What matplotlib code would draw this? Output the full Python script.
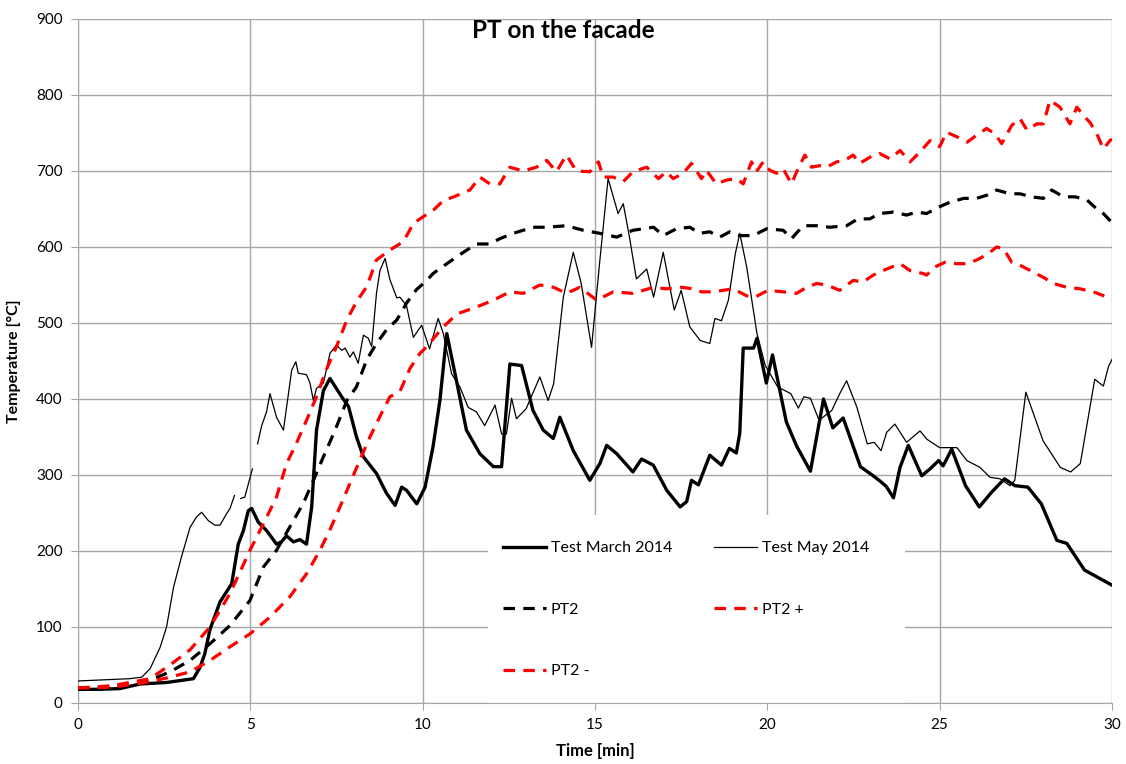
import numpy as np
import matplotlib
matplotlib.use("Agg")
import matplotlib.pyplot as plt
from matplotlib.patches import Rectangle

plt.rcParams['font.family'] = ['Lato', 'DejaVu Sans']

# ---------------- data ----------------
t_march = [0, 0.6, 1.22, 1.8, 2.57, 3.35, 3.54, 3.68, 3.83, 4.12, 4.46, 4.65, 4.8, 4.94, 5.04, 5.23, 5.47,
           5.76, 5.9, 6.05, 6.25, 6.44, 6.63, 6.78, 6.92, 7.12, 7.31, 7.65, 7.85, 8.08, 8.28, 8.66, 8.95,
           9.2, 9.39, 9.53, 9.83, 10.07, 10.3, 10.5, 10.7, 10.94, 11.27, 11.66, 12.05, 12.29, 12.53, 12.87,
           13.2, 13.5, 13.79, 13.98, 14.37, 14.85, 15.14, 15.34, 15.63, 16.1, 16.35, 16.69, 17.08, 17.47,
           17.66, 17.8, 18.0, 18.33, 18.67, 18.9, 19.1, 19.2, 19.3, 19.6, 19.7, 19.97, 20.15, 20.55, 20.85,
           21.25, 21.63, 21.9, 22.2, 22.7, 23.1, 23.27, 23.45, 23.66, 23.85, 24.09, 24.48, 24.72, 24.97,
           25.1, 25.35, 25.75, 26.15, 26.5, 26.88, 27.18, 27.56, 27.95, 28.4, 28.69, 29.2, 30]
v_march = [18, 18, 19, 25, 27, 32, 47, 65, 97, 133, 157, 209, 227, 253, 256, 238, 227,
           209, 212, 220, 212, 215, 209, 258, 359, 411, 427, 403, 390, 350, 324, 302, 276,
           260, 284, 280, 262, 284, 337, 398, 486, 433, 359, 328, 311, 311, 446, 444,
           385, 359, 348, 376, 332, 293, 315, 339, 328, 304, 321, 313, 280, 258,
           265, 293, 287, 326, 313, 335, 329, 355, 467, 467, 480, 421, 458, 370, 338,
           305, 400, 362, 375, 311, 298, 292, 285, 270, 310, 339, 299, 308, 319,
           312, 334, 286, 258, 277, 295, 286, 284, 262, 214, 210, 175, 155]

t_may = [0, 0.5, 1.0, 1.5, 1.85, 2.09, 2.38, 2.57, 2.77, 3.0, 3.25, 3.44, 3.59, 3.78, 3.97, 4.12, 4.31,
         4.41, 4.54, 4.62, 4.72, 4.84, 5.06, 5.13, 5.21, 5.33, 5.47, 5.57, 5.76, 5.96, 6.2, 6.32, 6.39,
         6.63, 6.73, 6.83, 6.92, 7.12, 7.31, 7.5, 7.65, 7.75, 7.89, 7.99, 8.13, 8.28, 8.42, 8.52, 8.66,
         8.76, 8.91, 9.05, 9.25, 9.34, 9.53, 9.73, 9.97, 10.2, 10.45, 10.6, 10.84, 11.08, 11.32, 11.56,
         11.8, 12.1, 12.29, 12.43, 12.58, 12.72, 13.0, 13.4, 13.64, 13.8, 14.08, 14.37, 14.6, 14.9,
         15.14, 15.38, 15.67, 15.82, 16.0, 16.2, 16.5, 16.7, 16.98, 17.3, 17.5, 17.75, 18.05, 18.33,
         18.48, 18.67, 18.87, 19.07, 19.2, 19.4, 19.7, 19.94, 20.3, 20.68, 20.9, 21.06, 21.25, 21.5,
         21.87, 22.1, 22.3, 22.6, 22.9, 23.1, 23.3, 23.46, 23.7, 24.04, 24.43, 24.63, 25.0, 25.5,
         25.79, 26.17, 26.46, 26.75, 27.04, 27.18, 27.5, 28.0, 28.5, 28.8, 29.08, 29.5, 29.75, 29.9, 30]
v_may = [29, 30, 31, 32, 34, 45, 73, 100, 152, 192, 231, 245, 251, 240, 234, 234, 249,
         256, 273, np.nan, 269, 271, 308, np.nan, 341, 365, 383, 407, 376, 359, 438, 449, 434,
         432, 421, 398, 414, 421, 460, 471, 464, 467, 455, 462, 447, 484, 480, 469, 539,
         569, 585, 557, 533, 534, 523, 481, 497, 466, 506, 486, 433, 416, 389, 383,
         365, 392, 354, 354, 401, 374, 387, 429, 398, 420, 534, 593, 552, 468,
         582, 690, 644, 657, 613, 558, 571, 534, 593, 517, 543, 495, 477, 473,
         506, 503, 530, 591, 618, 574, 486, 444, 416, 407, 388, 403, 401, 372,
         385, 407, 424, 389, 341, 343, 332, 356, 367, 343, 358, 347, 336, 336,
         319, 310, 297, 295, 286, 293, 409, 345, 310, 304, 315, 426, 417, 443, 452]

t_pt2 = [0, 0.5, 1.0, 1.5, 2.09, 2.67, 3.25, 3.83, 4.41, 4.99, 5.38, 5.76, 6.15, 6.54, 6.83, 7.12, 7.46,
         7.8, 8.08, 8.38, 8.66, 8.95, 9.25, 9.53, 9.82, 10.1, 10.3, 10.7, 11.18, 11.56, 11.95, 12.24,
         12.63, 13.2, 13.6, 14.17, 14.66, 15.14, 15.63, 16.1, 16.7, 16.98, 17.36, 17.75, 18.04, 18.33,
         18.62, 18.91, 19.2, 19.59, 19.98, 20.46, 20.7, 21.04, 21.43, 21.81, 22.3, 22.63, 22.97, 23.26,
         23.66, 24.04, 24.33, 24.62, 25.0, 25.3, 25.7, 26.07, 26.36, 26.65, 27.04, 27.33, 27.67, 28.01,
         28.25, 28.59, 28.93, 29.27, 29.56, 29.75, 29.94, 30]
v_pt2 = [20, 20, 22, 25, 30, 41, 56, 78, 102, 135, 179, 201, 232, 263, 293, 324, 359,
         398, 416, 452, 473, 491, 504, 526, 544, 555, 565, 578, 593, 604, 604, 611,
         618, 626, 626, 628, 622, 618, 613, 622, 626, 615, 624, 626, 618, 620,
         613, 620, 615, 615, 624, 622, 611, 628, 628, 626, 628, 637, 637, 644,
         646, 642, 646, 644, 653, 659, 664, 664, 668, 675, 670, 670, 666, 664,
         675, 666, 666, 662, 650, 644, 635, 633]

t_pt2p = [0, 0.5, 1.0, 1.5, 2.09, 2.67, 3.25, 3.83, 4.41, 4.99, 5.38, 5.76, 6.05, 6.34, 6.63, 6.92, 7.2,
          7.5, 7.8, 8.08, 8.38, 8.66, 9.05, 9.44, 9.73, 10.02, 10.3, 10.6, 10.9, 11.37, 11.66, 11.95,
          12.24, 12.53, 12.92, 13.3, 13.6, 13.88, 14.17, 14.46, 14.85, 15.1, 15.24, 15.53, 15.82, 16.1,
          16.5, 16.84, 17.07, 17.27, 17.56, 17.8, 18.09, 18.23, 18.52, 18.81, 19.1, 19.3, 19.54, 19.68,
          19.88, 20.07, 20.27, 20.46, 20.7, 20.89, 21.09, 21.28, 21.52, 21.72, 22.01, 22.25, 22.49,
          22.68, 22.97, 23.26, 23.56, 23.85, 24.14, 24.43, 24.72, 25.0, 25.2, 25.5, 25.8, 26.07, 26.36,
          26.6, 26.8, 27.09, 27.33, 27.53, 27.82, 28.01, 28.2, 28.49, 28.78, 28.98, 29.17, 29.36, 29.56,
          29.75, 29.94, 30]
v_pt2p = [20, 21, 23, 27, 32, 50, 70, 100, 144, 201, 236, 271, 315, 342, 372, 403, 438,
          469, 504, 528, 548, 583, 596, 607, 631, 640, 648, 661, 666, 675, 692, 683,
          683, 705, 700, 705, 714, 699, 721, 700, 699, 712, 692, 692, 686, 699,
          705, 690, 699, 690, 697, 710, 690, 701, 683, 688, 690, 683, 712, 699,
          712, 701, 697, 703, 683, 703, 721, 705, 707, 705, 712, 714, 721,
          710, 718, 723, 716, 727, 712, 725, 740, 732, 751, 745, 738, 747, 756,
          749, 736, 760, 769, 754, 762, 762, 793, 784, 762, 784, 773, 764, 749,
          729, 740, 742]

t_pt2m = [0, 0.5, 1.0, 1.5, 2.09, 2.67, 3.25, 3.83, 4.41, 4.99, 5.57, 6.15, 6.63, 7.02, 7.31, 7.6, 7.89,
          8.18, 8.47, 8.76, 9.05, 9.34, 9.63, 9.92, 10.1, 10.6, 11.0, 11.56, 12.05, 12.53, 12.92, 13.4,
          13.8, 14.17, 14.56, 15.05, 15.53, 16.1, 16.7, 17.07, 17.51, 17.85, 18.09, 18.43, 18.72, 19.01,
          19.39, 19.64, 20.02, 20.46, 20.85, 21.14, 21.43, 21.72, 22.1, 22.49, 22.78, 23.07, 23.46,
          23.85, 24.14, 24.53, 24.62, 24.87, 25.16, 25.5, 25.83, 26.17, 26.46, 26.65, 26.85, 27.09,
          27.33, 27.67, 28.01, 28.3, 28.69, 29.07, 29.46, 29.75, 29.96, 30]
v_pt2m = [20, 20, 21, 24, 28, 34, 41, 56, 74, 91, 113, 140, 170, 201, 228, 258, 289,
          320, 350, 377, 403, 410, 440, 460, 468, 495, 512, 521, 530, 541, 539, 550,
          547, 539, 547, 530, 541, 539, 547, 545, 547, 545, 541, 541, 543, 545,
          536, 534, 543, 541, 539, 547, 552, 550, 543, 556, 554, 563, 571,
          578, 569, 565, 563, 574, 580, 578, 578, 585, 593, 600, 598, 580,
          576, 568, 560, 552, 547, 545, 541, 536, 532, 531]

x_ticks = [0, 5, 10, 15, 20, 25, 30]
y_ticks = [0, 100, 200, 300, 400, 500, 600, 700, 800, 900]
labels = ["Test March 2014", "Test May 2014", "PT2", "PT2 +", "PT2 -"]

# ---------------- figure ----------------
fig = plt.figure(figsize=(11.26, 7.64), dpi=100)
ax = fig.add_axes([78 / 1126, 61 / 764, 1034 / 1126, 684 / 764])

grid_c = '#A6A6A6'
lw_d = 2.3
dash = (3.6, 2.6)

l_march, = ax.plot(t_march, v_march, color='black', lw=2.4, zorder=3, solid_joinstyle='round')
l_may, = ax.plot(t_may, v_may, color='black', lw=0.9, zorder=3)
l_pt2, = ax.plot(t_pt2, v_pt2, color='black', lw=lw_d, dashes=dash, zorder=3)
l_pt2p, = ax.plot(t_pt2p, v_pt2p, color='#FF0000', lw=lw_d, dashes=dash, zorder=3)
l_pt2m, = ax.plot(t_pt2m, v_pt2m, color='#FF0000', lw=lw_d, dashes=dash, zorder=3)

ax.set_xlim(0, 30)
ax.set_ylim(0, 900)
ax.set_xticks(x_ticks)
ax.set_yticks(y_ticks)
ax.grid(True, color=grid_c, lw=1.0, zorder=1)
ax.set_axisbelow(True)
for s in ax.spines.values():
    s.set_visible(False)
ax.spines['left'].set_visible(True)
ax.spines['bottom'].set_visible(True)
ax.spines['left'].set_color(grid_c)
ax.spines['bottom'].set_color(grid_c)
ax.spines['bottom'].set_zorder(6)
ax.tick_params(axis='both', which='both', direction='out', length=5, color=grid_c,
               labelsize=11, labelcolor='black', pad=6)

ax.set_xlabel('Time [min]', fontsize=12, fontweight='bold', labelpad=8)
ax.set_ylabel('Temperature [°C]', fontsize=11.5, fontweight='bold', labelpad=11)
fig.text(0.5, 1 - 38.5 / 764, 'PT on the facade', ha='center', va='baseline',
         fontsize=17.5, fontweight='bold')

# legend background (white, covers gridlines)
ax.add_patch(Rectangle(((488 - 78) / 1034, 0), (905 - 488) / 1034, (703 - 515) / 684,
                       transform=ax.transAxes, facecolor='white', edgecolor='none', zorder=4))

handles = [l_march, l_pt2, l_pt2m, l_may, l_pt2p]
hl = [labels[0], labels[2], labels[4], labels[1], labels[3]]
leg = ax.legend(handles, hl, ncol=2, loc='upper left',
                bbox_to_anchor=((503 - 78) / 1034, (703 - 541) / 684),
                frameon=False, fontsize=11.5, handlelength=2.7, handletextpad=0.3,
                columnspacing=2.6, labelspacing=2.97, borderpad=0, borderaxespad=0)
leg.set_zorder(5)

fig.savefig('out.png', dpi=100)
